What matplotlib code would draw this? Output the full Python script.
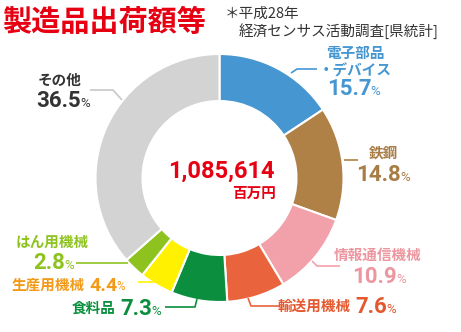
import matplotlib
matplotlib.use('Agg')
import matplotlib.pyplot as plt

# data
names = ['電子部品\n・デバイス', '鉄鋼', '情報通信機械', '輸送用機械', '食料品', '生産用機械', 'はん用機械', 'その他']
shares = [15.7, 14.8, 10.9, 7.6, 7.3, 4.4, 2.8, 36.5]
colors = ['#4596d1', '#b08147', '#f2a0a9', '#e9633c', '#0b8f3e', '#fff100', '#8ec31f', '#d3d3d4']
text_colors = ['#4596d1', '#a87c45', '#ec97a0', '#e4582e', '#0b8f3e', '#f29a18', '#8ec31f', '#333333']
total = '1,085,614'
unit = '百万円'
title = '製造品出荷額等'
note = ['＊平成28年', '経済センサス活動調査[県統計]']

JP = ['Noto Sans CJK JP', 'DejaVu Sans']
NUM = ['Roboto', 'Noto Sans CJK JP']
RED = '#e60012'

fig = plt.figure(figsize=(4.61, 3.32), dpi=100)
ax = fig.add_axes([0, 0, 1, 1])

# donut (pixel coords, y axis inverted -> counterclock draws clockwise)
cx, cy, r = 219.5, 178, 124
ax.pie(shares, colors=colors, startangle=-90, counterclock=True,
       center=(cx, cy), radius=r,
       wedgeprops=dict(width=47, edgecolor='white', linewidth=1.5))
ax.set_xlim(0, 461)
ax.set_ylim(332, 0)
ax.set_aspect('equal')
ax.axis('off')


def pct(x, y, val, color, size=16, ha='left', after=None):
    # big number + small %
    if after is None:
        t = ax.text(x, y, f'{val:.1f}', family=NUM, weight='bold', fontsize=size,
                    color=color, ha=ha, va='center')
    else:
        t = ax.annotate(f'{val:.1f}', xy=(1, 0.5), xycoords=after, xytext=(3, -1),
                        textcoords='offset points', family=NUM, weight='bold',
                        fontsize=size, color=color, ha='left', va='center')
    ax.annotate('%', xy=(1, 0), xycoords=t, xytext=(-0.5, 1.5), textcoords='offset points',
                family=NUM, fontsize=size * 0.6, color=color, ha='left', va='bottom')
    return t


def name(x, y, s, color, ha='center'):
    return ax.text(x, y, s, family=JP, weight='bold', fontsize=10.5, color=color,
                   ha=ha, va='center', linespacing=1.15)


def leader(xs, ys, color):
    ax.plot(xs, ys, color=color, lw=1.2, solid_capstyle='butt')


# 電子部品・デバイス
ax.text(326, 53, '電子部品', family=JP, weight='bold', fontsize=10.5, color=text_colors[0], va='center')
ax.text(319, 71, '・デバイス', family=JP, weight='bold', fontsize=10.5, color=text_colors[0], va='center')
pct(327, 89, shares[0], text_colors[0])
leader([291, 297, 317], [73, 69, 69], colors[0])

# 鉄鋼
name(383, 153, names[1], text_colors[1])
pct(356, 175, shares[1], text_colors[1])
leader([344, 358], [160, 160], colors[1])

# 情報通信機械
name(378, 255, names[2], text_colors[2])
pct(352, 277, shares[2], text_colors[2])
leader([312, 317, 340], [261, 266, 266], colors[2])

# 輸送用機械
t = name(278, 306, names[3], text_colors[3], ha='left')
pct(0, 0, shares[3], text_colors[3], after=t)
leader([248, 251, 280], [298, 306, 306], colors[3])

# 食料品
t = name(72, 308, names[4], text_colors[4], ha='left')
pct(0, 0, shares[4], text_colors[4], after=t)
leader([197, 195, 165], [299, 307, 307], colors[4])

# 生産用機械
t = name(12, 285, names[5], text_colors[5], ha='left')
pct(0, 0, shares[5], text_colors[5], size=14, after=t)
leader([163, 160, 138], [274, 282, 282], colors[5])

# はん用機械
name(52, 242, names[6], text_colors[6])
pct(33, 263, shares[6], text_colors[6])
leader([128, 76], [263, 263], colors[6])

# その他
name(60, 80, names[7], text_colors[7])
pct(36, 101, shares[7], text_colors[7])
leader([90, 113, 122], [90, 90, 100], '#c8c8c8')

# center total
ax.text(221, 171, total, family=NUM, weight='bold', fontsize=17, color=RED, ha='center', va='center')
ax.text(276, 193, unit, family=JP, weight='bold', fontsize=10.5, color=RED, ha='right', va='center')

# title and note
ax.text(2, 22, title, family=JP, weight='bold', fontsize=21, color=RED, ha='left', va='center')
ax.text(225, 14, note[0], family=JP, fontsize=10.5, color='#333333', ha='left', va='center')
ax.text(239, 31, note[1], family=JP, fontsize=10.5, color='#333333', ha='left', va='center')

plt.savefig('out.png', dpi=100)
